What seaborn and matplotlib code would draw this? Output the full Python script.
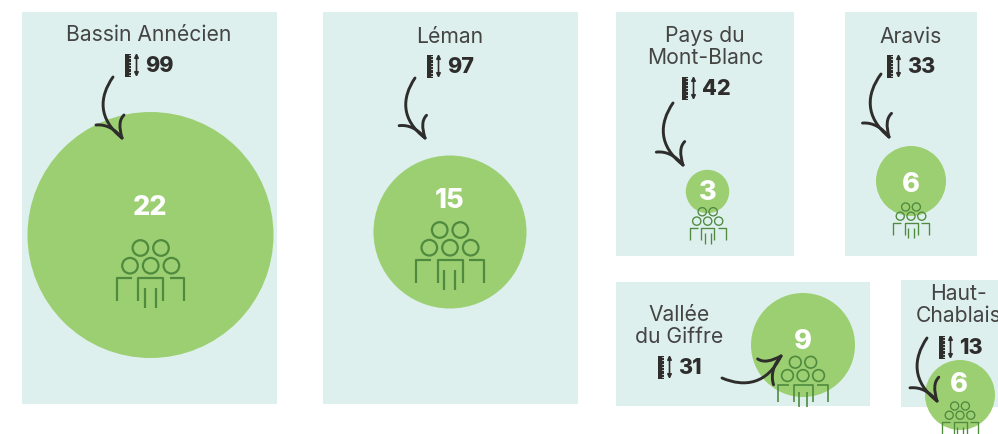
import numpy as np
import pandas as pd
import seaborn as sns
import matplotlib.pyplot as plt
from matplotlib.patches import Rectangle, Circle, PathPatch
from matplotlib.path import Path

# chart values
massifs = ['Bassin Annécien', 'Léman', 'Pays du\nMont-Blanc', 'Aravis', 'Vallée\ndu Giffre', 'Haut-\nChablais']
longueurs = [99, 97, 42, 33, 31, 13]
effectifs = [22, 15, 3, 6, 9, 6]

# layout, in picture pixels
panels = [(22, 12, 255, 392), (323, 12, 255, 392), (616, 12, 178, 244),
          (845, 12, 132, 244), (616, 282, 254, 124), (901, 280, 97, 127)]
title_xy = [(149, 35), (450, 37), (705, 47), (911, 37), (679, 326), (959, 305)]
ruler_xy = [(125, 65), (427, 66), (682, 88), (887, 66), (658, 367), (939, 347)]
bubble_xy = [(150.5, 235), (450, 232), (707.5, 191.5), (911, 181), (803, 345), (960, 395)]
count_xy = [(150, 208), (450, 201), (708, 193), (911, 185), (803, 342), (959, 385)]
icon_xy = [(150.7, 273), (450, 255), (707.7, 225), (911, 220), (803, 381), (960, 419)]
icon_scale = [1, 1, .53, .52, .75, .52]
arrows = [((113, 77), (122, 138)), ((415, 78), (425, 138)), ((673, 103), (683, 165)),
          ((881, 74), (889, 137)), ((722, 378), (781, 356)), ((927, 338), (937, 401))]
radius_px = {22: 123, 15: 76.5, 9: 52, 6: 35, 3: 21.7}

PANEL = '#ddf0ed'
GREEN = '#9ccf72'
ICON = '#4f8a3e'
DARK = '#2e2d2c'
GREY = '#444443'
FONT = 'Inter'
PT = 0.72  # points per pixel at dpi 100

sns.set_style('white')
plt.rcParams['font.family'] = [FONT, 'DejaVu Sans']
fig = plt.figure(figsize=(9.98, 4.34), dpi=100)
ax = fig.add_axes([0, 0, 1, 1])


def draw_people(cx, cy, k):
    for dx, dy in [(-10.3, -25), (10.3, -25), (-20.7, -7.3), (0, -7.3), (20.7, -7.3)]:
        ax.add_patch(Circle((cx + dx * k, cy + dy * k), 7.8 * k, fill=False, ec=ICON, lw=1.6 * max(k, .6), zorder=4))
    lines = [[(-33.7, 28), (-33.7, 5), (-19, 5)],
             [(-12.3, 28), (-12.3, 5), (12.7, 5), (12.7, 28)],
             [(19, 5), (33.7, 5), (33.7, 28)],
             [(-5.7, 15), (-5.7, 35)], [(5.3, 15), (5.3, 35)]]
    for pts in lines:
        pts = np.array(pts) * k + (cx, cy)
        ax.plot(pts[:, 0], pts[:, 1], color=ICON, lw=1.6 * max(k, .6), zorder=4, solid_capstyle='butt')


def draw_ruler(x, y):
    ax.add_patch(Rectangle((x, y - 11.5), 6.5, 23, fc=DARK, ec='none', zorder=5))
    for t in np.arange(-10, 11, 3.3):
        ax.plot([x + 4.2, x + 6.5], [y + t, y + t], color=PANEL, lw=.6, zorder=6)
    ax.annotate('', xy=(x + 11.5, y - 12), xytext=(x + 11.5, y + 12), zorder=5,
                arrowprops=dict(arrowstyle='<|-|>', color=DARK, lw=1.2, mutation_scale=6, shrinkA=0, shrinkB=0))


def draw_arrow(start, end):
    # template drawn going down from (0,0) to (9,61), moved to start/end
    s, e = complex(*start), complex(*end)
    f = (e - s) / complex(9, 61)
    def m(x, y):
        z = s + f * complex(x, y)
        return (z.real, z.imag)
    curves = [[(0, 0), (-14, 20), (-15, 42), (9, 61)],
              [(-17, 48), (-7, 47), (2, 52), (9, 61)],
              [(11, 38), (6, 43), (6, 50), (9, 61)]]
    for c in curves:
        path = Path([m(*p) for p in c], [Path.MOVETO, Path.CURVE4, Path.CURVE4, Path.CURVE4])
        ax.add_patch(PathPatch(path, fill=False, ec=DARK, lw=2.1, capstyle='round', zorder=7))


for x, y, w, h in panels:
    ax.add_patch(Rectangle((x, y), w, h, fc=PANEL, ec='none', zorder=1))

df = pd.DataFrame({'x': [p[0] for p in bubble_xy], 'y': [p[1] for p in bubble_xy], 'effectif': effectifs})
sizes = {k: (2 * r * PT) ** 2 for k, r in radius_px.items()}
sns.scatterplot(data=df, x='x', y='y', size='effectif', sizes=sizes, color=GREEN,
                linewidth=0, alpha=1, legend=False, ax=ax, zorder=3)

for i, name in enumerate(massifs):
    ax.text(*title_xy[i], name, ha='center', va='center', fontsize=15.2, color=GREY,
            linespacing=1.17, zorder=8)
    rx, ry = ruler_xy[i]
    draw_ruler(rx, ry)
    ax.text(rx + 20, ry + 1, str(longueurs[i]), ha='left', va='center', fontsize=15.5,
            fontweight='heavy', color=DARK, zorder=8)
    ax.text(*count_xy[i], str(effectifs[i]), ha='center', va='center', fontsize=19.5,
            fontweight='heavy', color='white', zorder=8)
    draw_people(*icon_xy[i], icon_scale[i])
    draw_arrow(*arrows[i])

ax.set_xlim(0, 998)
ax.set_ylim(434, 0)
ax.set_axis_off()
fig.savefig('out.png', dpi=100)
